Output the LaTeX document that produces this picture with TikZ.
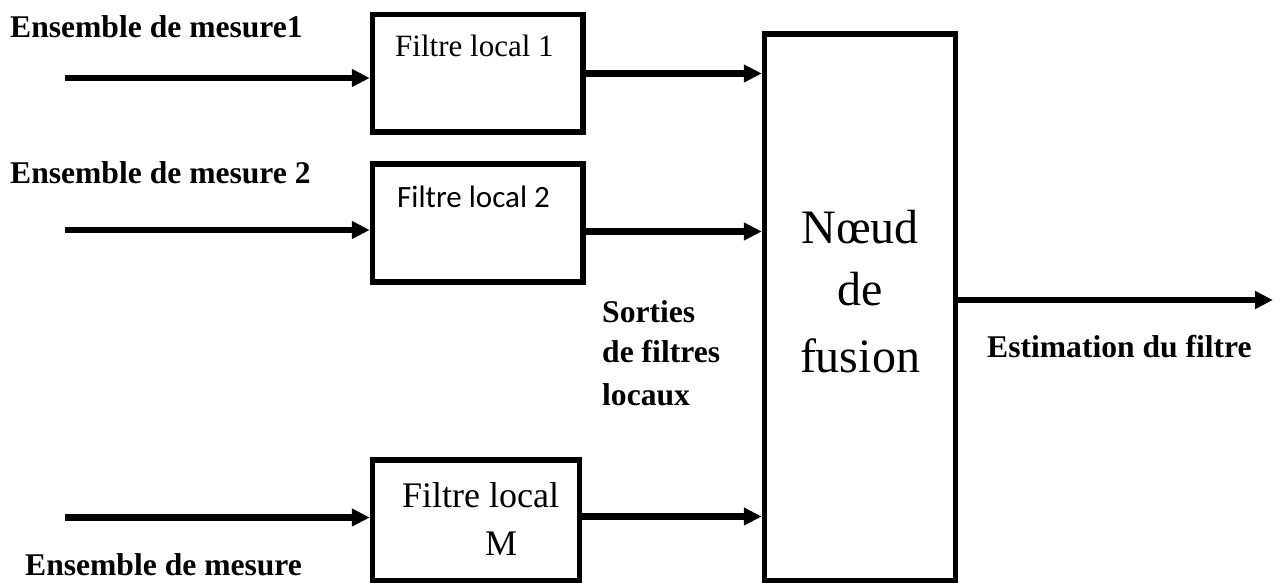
\documentclass[tikz,border=0pt]{standalone}
\usepackage{fontspec}
\setmainfont{Liberation Serif}
\newfontfamily\calfont{Carlito}
\usetikzlibrary{arrows.meta}

\tikzset{
  blockbox/.style={draw, line width=5.5pt, inner sep=0pt, minimum width=#1},
  arr/.style={line width=6.5pt, -{Triangle[length=18pt,width=17pt]}},
  lbl/.style={anchor=base west, inner sep=0pt, font=\fontsize{31.6}{38}\selectfont\bfseries},
  boxtxt/.style={anchor=base west, inner sep=0pt, font=\fontsize{31}{37}\selectfont},
  fustxt/.style={anchor=base, inner sep=0pt, font=\fontsize{48}{64}\selectfont},
}

\begin{document}
\begin{tikzpicture}[x=1pt, y=-1pt]
\useasboundingbox (0,0) rectangle (1282,583);

% processing blocks
\node[blockbox=210.5pt, minimum height=117.5pt] (b1) at (477.75,73.25) {};
\node[blockbox=210.5pt, minimum height=118pt]   (b2) at (477.75,223) {};
\node[blockbox=207pt,   minimum height=121pt]   (bM) at (476,520.5) {};
\node[blockbox=191pt,   minimum height=547pt]   (fus) at (860,307.5) {};

% block texts
\node[boxtxt] (t1) at (395,57) {Filtre local 1};
\node[boxtxt, font=\fontsize{31}{37}\selectfont\calfont] (t2) at (397,207) {Filtre local 2};
\node[boxtxt, font=\fontsize{36}{43}\selectfont] (tM1) at (402,507) {Filtre local};
\node[anchor=base, inner sep=0pt, font=\fontsize{36}{43}\selectfont] (tM2) at (501,555) {M};
\node[fustxt] (f1) at (860,243) {Nœud};
\node[fustxt] (f2) at (860,305) {de};
\node[fustxt] (f3) at (860,372) {fusion};

% input labels
\node[lbl] (e1) at (10,38) {Ensemble de mesure1};
\node[lbl] (e2) at (10,183) {Ensemble de mesure 2};
\node[lbl] (eM) at (25,575) {Ensemble de mesure};

% intermediate and output labels
\node[lbl] (s1) at (602,322) {Sorties};
\node[lbl] (s2) at (602,362) {de filtres};
\node[lbl] (s3) at (602,405) {locaux};
\node[lbl] (est) at (987,357) {Estimation du filtre};

% connector reference points
\coordinate (in1) at (65,78);
\coordinate (in2) at (65,230);
\coordinate (inM) at (65,517.5);
\coordinate (o1) at (583,73.5);
\coordinate (o2) at (583,231.5);
\coordinate (oM) at (583,516.5);
\coordinate (fo) at (960,300);
\coordinate (out) at (1273,300);

% inputs
\draw[arr] (in1) -- (b1.west |- in1);
\draw[arr] (in2) -- (b2.west |- in2);
\draw[arr] (inM) -- (bM.west |- inM);

% local outputs to fusion node
\draw[arr] (b1.east |- o1) -- (fus.west |- o1);
\draw[arr] (b2.east |- o2) -- (fus.west |- o2);
\draw[arr] (bM.east |- oM) -- (fus.west |- oM);

% fused estimate
\draw[arr] (fus.east |- fo) -- (out);
\end{tikzpicture}
\end{document}
